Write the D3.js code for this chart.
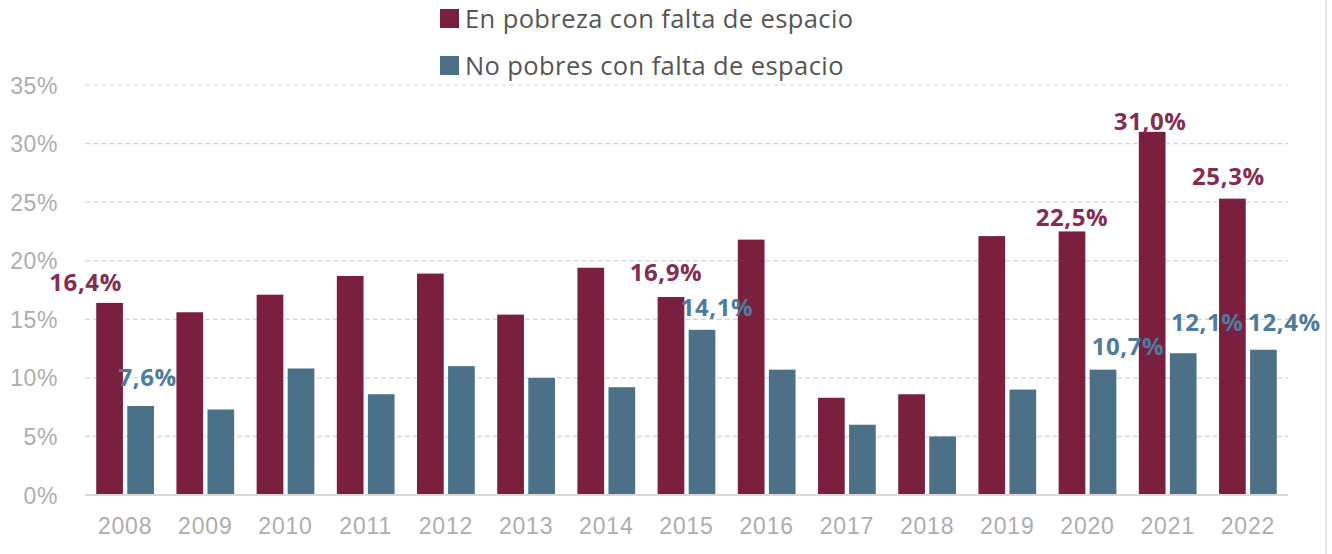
<!DOCTYPE html>
<html><head><meta charset="utf-8">
<script src="https://cdn.jsdelivr.net/npm/d3@7/dist/d3.min.js"></script>
<style>
html,body{margin:0;padding:0;background:#fff;}
svg{display:block;font-family:"Open Sans",sans-serif;}
</style></head>
<body><svg id="chart" width="1332" height="554"></svg>
<script>
const years = ["2008","2009","2010","2011","2012","2013","2014","2015","2016","2017","2018","2019","2020","2021","2022"];
const pobres = [16.4,15.6,17.1,18.7,18.9,15.4,19.4,16.9,21.8,8.3,8.6,22.1,22.5,31.0,25.3];
const noPobres = [7.6,7.3,10.8,8.6,11.0,10.0,9.2,14.1,10.7,6.0,5.0,9.0,10.7,12.1,12.4];
const seriesNames = ["En pobreza con falta de espacio","No pobres con falta de espacio"];
const yTicks = [0,5,10,15,20,25,30,35];
// Years whose values carry a data label
const labeledPobres = ["2008","2015","2020","2021","2022"];
const labeledNoPobres = ["2008","2015","2020","2021","2022"];

const colors = ["#7B1F41","#4D7089"];
const labelColors = ["#862C4F","#4E7B99"];
// label nudges (layout only): [dx, dy from bar top to baseline]
const nudgeP = {"2008":[-24,-12],"2015":[-5,-16],"2020":[0,-5],"2021":[-2,-2],"2022":[-4,-14]};
const nudgeN = {"2008":[7,-20],"2015":[15,-14],"2020":[25,-15],"2021":[24,-22],"2022":[21,-19]};

const svg = d3.select("#chart");
const m = {left:85, right:1288, top:85, bottom:495};
const x = d3.scaleBand().domain(years).range([m.left, m.right]).paddingInner(0.28).paddingOuter(0.14);
const x1 = d3.scaleBand().domain([0,1]).range([0, x.bandwidth()]).paddingInner(0.14);
const y = d3.scaleLinear().domain([0,35]).range([m.bottom, m.top]);

// gridlines
svg.append("g").selectAll("line").data(yTicks.filter(d=>d>0)).join("line")
  .attr("x1", m.left).attr("x2", m.right)
  .attr("y1", d=>y(d)).attr("y2", d=>y(d))
  .attr("stroke","#D4D4D4").attr("stroke-width",1.2).attr("stroke-dasharray","5,3");

// y axis labels
const yAxis = d3.axisLeft(y).tickValues(yTicks).tickFormat(d=>d+"%").tickSize(0).tickPadding(0);
const gy = svg.append("g").attr("transform",`translate(58,0)`).call(yAxis);
gy.select(".domain").remove();
gy.selectAll("text").attr("fill","#ADADAD").style("font-size","23px").style("letter-spacing","0.6px").attr("dy","0.35em");

// bars
const data = years.map((yr,i)=>({yr, vals:[pobres[i], noPobres[i]]}));
const groups = svg.append("g").selectAll("g").data(data).join("g")
  .attr("transform", d=>`translate(${x(d.yr)},0)`);
groups.selectAll("rect").data(d=>d.vals.map((v,k)=>({v,k}))).join("rect")
  .attr("x", d=>x1(d.k)).attr("width", x1.bandwidth())
  .attr("y", d=>y(d.v)).attr("height", d=>y(0)-y(d.v))
  .attr("fill", d=>colors[d.k]);

// baseline
svg.append("line").attr("x1",m.left).attr("x2",m.right).attr("y1",y(0)).attr("y2",y(0))
  .attr("stroke","#D9D9D9").attr("stroke-width",2);

// x axis labels
const xAxis = d3.axisBottom(x).tickSize(0).tickPadding(0);
const gx = svg.append("g").attr("transform",`translate(0,${y(0)})`).call(xAxis);
gx.select(".domain").remove();
gx.selectAll("text").attr("fill","#ADADAD").style("font-size","23px").style("letter-spacing","0.8px").attr("dy","0").attr("y",39);

// data labels
const fmt = v => v.toFixed(1).replace(".",",")+"%";
function addLabels(list, vals, k, nudge){
  svg.append("g").selectAll("text").data(list).join("text")
    .attr("x", yr => x(yr)+x1(k)+x1.bandwidth()/2 + nudge[yr][0])
    .attr("y", yr => y(vals[years.indexOf(yr)]) + nudge[yr][1])
    .attr("text-anchor","middle")
    .attr("fill", labelColors[k])
    .style("font-size","24px").style("font-weight","700").style("letter-spacing","0.6px")
    .text(yr => fmt(vals[years.indexOf(yr)]));
}
addLabels(labeledPobres, pobres, 0, nudgeP);
addLabels(labeledNoPobres, noPobres, 1, nudgeN);

// legend
const leg = svg.append("g").selectAll("g").data(seriesNames).join("g")
  .attr("transform",(d,i)=>`translate(440,${9+i*47})`);
leg.append("rect").attr("width",19).attr("height",19).attr("fill",(d,i)=>colors[i]);
leg.append("text").attr("x",25).attr("y",10).attr("dy","0.36em")
  .attr("fill","#555555").style("font-size","25.5px").style("letter-spacing","0.4px").text(d=>d);

// right frame line
svg.append("line").attr("x1",1326).attr("x2",1326).attr("y1",0).attr("y2",554)
  .attr("stroke","#E8E8E8").attr("stroke-width",2);
</script></body></html>
